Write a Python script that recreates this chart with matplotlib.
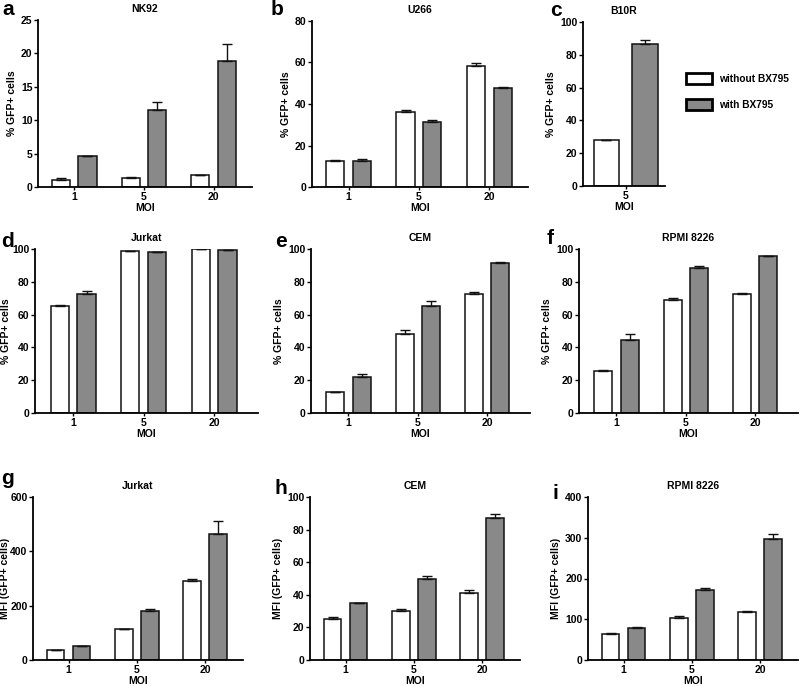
import numpy as np
import matplotlib
matplotlib.use('Agg')
import matplotlib.pyplot as plt
from matplotlib.patches import Patch

plt.rcParams['font.family'] = ['Liberation Sans', 'DejaVu Sans']
plt.rcParams['font.weight'] = 'bold'

# data
moi = ['1', '5', '20']

nk92_without = [1.0, 1.4, 1.8]
nk92_without_err = [0.3, 0.1, 0.05]
nk92_with = [4.6, 11.6, 18.8]
nk92_with_err = [0.0, 1.1, 2.6]

u266_without = [12.5, 36.2, 58.3]
u266_without_err = [0.7, 1.0, 1.5]
u266_with = [12.4, 31.3, 47.9]
u266_with_err = [1.0, 1.2, 0.4]

b10r_moi = ['5']
b10r_without = [27.8]
b10r_without_err = [0.0]
b10r_with = [86.3]
b10r_with_err = [2.5]

jurkat_without = [65.3, 98.5, 99.7]
jurkat_without_err = [0.4, 0.2, 0.1]
jurkat_with = [72.7, 98.2, 99.2]
jurkat_with_err = [1.8, 0.2, 0.2]

cem_without = [12.7, 48.1, 72.8]
cem_without_err = [0.2, 2.6, 1.0]
cem_with = [21.7, 65.5, 91.5]
cem_with_err = [2.2, 3.0, 0.3]

rpmi_without = [25.9, 69.0, 72.8]
rpmi_without_err = [0.5, 1.3, 0.4]
rpmi_with = [44.5, 88.4, 95.6]
rpmi_with_err = [3.5, 1.2, 0.2]

jurkat_mfi_without = [35, 113, 290]
jurkat_mfi_without_err = [1, 2, 8]
jurkat_mfi_with = [51, 181, 462]
jurkat_mfi_with_err = [2, 6, 50]

cem_mfi_without = [25.3, 30.2, 41.0]
cem_mfi_without_err = [0.8, 1.2, 1.7]
cem_mfi_with = [34.9, 50.0, 87.3]
cem_mfi_with_err = [0.2, 1.6, 2.5]

rpmi_mfi_without = [64, 104, 117]
rpmi_mfi_without_err = [3, 5, 3]
rpmi_mfi_with = [78, 172, 298]
rpmi_mfi_with_err = [4, 4, 11]

W, H = 800, 686
fig = plt.figure(figsize=(W / 100, H / 100), dpi=100)

GRAY = '#898989'


def px_axes(l, t, r, b):
    return fig.add_axes([l / W, 1 - b / H, (r - l) / W, (b - t) / H])


def panel(box, title, labels, wo, wo_err, wi, wi_err, ymax, ystep, ylabel,
          width=0.26, off=0.19, xlim=(-0.52, 2.55), ylabelpad=3):
    ax = px_axes(*box)
    x = np.arange(len(labels))
    ax.bar(x - off, wo, width, color='white', edgecolor='#111111', linewidth=1.1, zorder=2)
    ax.bar(x + off, wi, width, color=GRAY, edgecolor='#111111', linewidth=1.1, zorder=2)
    ax.errorbar(x - off, wo, yerr=[np.zeros(len(wo)), wo_err], fmt='none',
                ecolor='#111111', elinewidth=1, capsize=3.5, capthick=1, zorder=3)
    ax.errorbar(x + off, wi, yerr=[np.zeros(len(wi)), wi_err], fmt='none',
                ecolor='#111111', elinewidth=1, capsize=3.5, capthick=1, zorder=3)
    ax.set_xlim(*xlim)
    ax.set_ylim(0, ymax)
    ax.set_yticks(np.arange(0, ymax + ystep / 2, ystep))
    ax.set_xticks(x)
    ax.set_xticklabels(labels)
    ax.spines['top'].set_visible(False)
    ax.spines['right'].set_visible(False)
    for s in ('left', 'bottom'):
        ax.spines[s].set_linewidth(1.3)
    ax.tick_params(axis='y', labelsize=7.5, width=1, length=3, pad=1)
    ax.tick_params(axis='x', labelsize=7.5, width=1, length=2.5, pad=1)
    ax.set_title(title, fontsize=7.5, fontweight='bold', pad=6)
    ax.set_xlabel('MOI', fontsize=7.5, fontweight='bold', labelpad=1)
    ax.set_ylabel(ylabel, fontsize=7.5, fontweight='bold', labelpad=ylabelpad)
    return ax


gfp = '% GFP+ cells'
mfi = 'MFI (GFP+ cells)'

panel((38, 20, 252, 187), 'NK92', moi, nk92_without, nk92_without_err,
      nk92_with, nk92_with_err, 25, 5, gfp)
panel((312, 21, 528, 187), 'U266', moi, u266_without, u266_without_err,
      u266_with, u266_with_err, 80, 20, gfp)
panel((583, 22, 665, 186), 'B10R', b10r_moi, b10r_without, b10r_without_err,
      b10r_with, b10r_with_err, 100, 20, gfp, width=0.31, off=0.235, xlim=(-0.52, 0.48))
panel((35, 249, 258, 413), 'Jurkat', moi, jurkat_without, jurkat_without_err,
      jurkat_with, jurkat_with_err, 100, 20, gfp, xlim=(-0.54, 2.62), ylabelpad=1)
panel((311, 249, 530, 413), 'CEM', moi, cem_without, cem_without_err,
      cem_with, cem_with_err, 100, 20, gfp, xlim=(-0.54, 2.62))
panel((579, 249, 798, 413), 'RPMI 8226', moi, rpmi_without, rpmi_without_err,
      rpmi_with, rpmi_with_err, 100, 20, gfp, xlim=(-0.54, 2.62))
panel((33, 497, 243, 660), 'Jurkat', moi, jurkat_mfi_without, jurkat_mfi_without_err,
      jurkat_mfi_with, jurkat_mfi_with_err, 600, 200, mfi, ylabelpad=0)
panel((310, 497, 520, 660), 'CEM', moi, cem_mfi_without, cem_mfi_without_err,
      cem_mfi_with, cem_mfi_with_err, 100, 20, mfi)
panel((588, 497, 798, 660), 'RPMI 8226', moi, rpmi_mfi_without, rpmi_mfi_without_err,
      rpmi_mfi_with, rpmi_mfi_with_err, 400, 100, mfi)

# panel letters
letters = [('a', 2, 15), ('b', 271, 15), ('c', 550, 16), ('d', 1, 247), ('e', 275, 247),
           ('f', 547, 244), ('g', 1, 484), ('h', 275, 494), ('i', 552, 499)]
for s, lx, ly in letters:
    fig.text(lx / W, 1 - ly / H, s, fontsize=15, fontweight='bold', va='baseline')

handles = [Patch(facecolor='white', edgecolor='black', linewidth=2),
           Patch(facecolor=GRAY, edgecolor='black', linewidth=2)]
fig.legend(handles, ['without BX795', 'with BX795'], loc='upper left',
           bbox_to_anchor=(677 / W, 1 - 64 / H), frameon=False,
           prop={'size': 7.3, 'weight': 'bold'}, handlelength=2.6, handleheight=1.3,
           labelspacing=1.45, handletextpad=0.6)

fig.savefig('out.png', dpi=100)
